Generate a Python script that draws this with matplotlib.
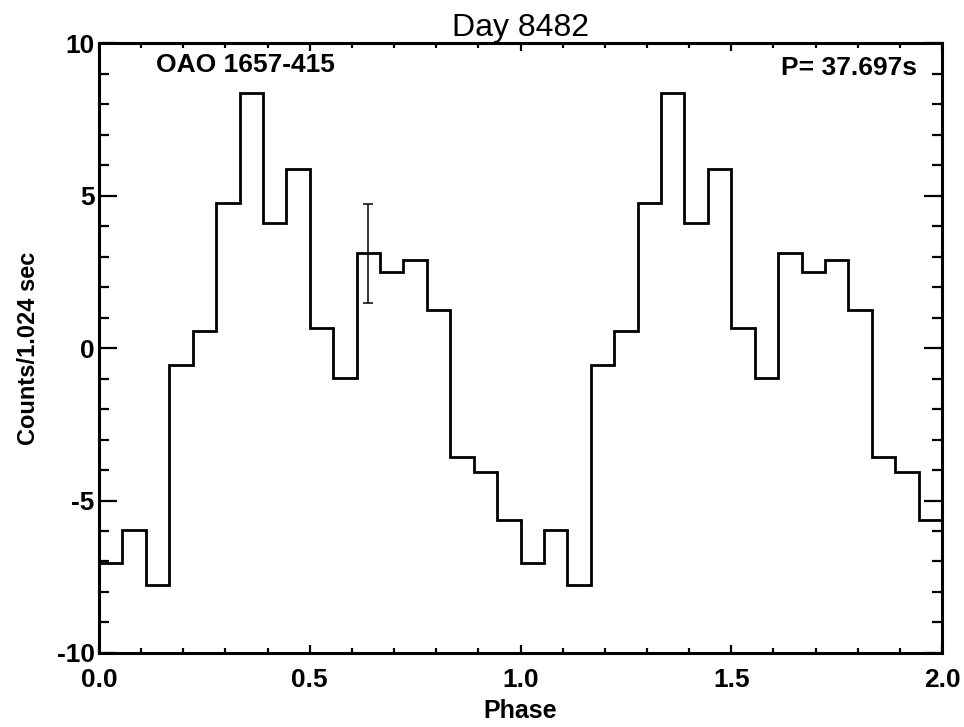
import numpy as np
import matplotlib
matplotlib.use("Agg")
import matplotlib.pyplot as plt
from matplotlib.ticker import MultipleLocator

plt.rcParams['font.family'] = ['Liberation Sans', 'DejaVu Sans']

# pulse profile, 18 phase bins, shown over two cycles
n_bins = 18
counts = [-7.05, -5.97, -7.77, -0.56, 0.55, 4.75, 8.36, 4.10, 5.87,
          0.66, -0.98, 3.11, 2.49, 2.89, 1.25, -3.57, -4.07, -5.64]
err_bin = 11          # bin with the representative error bar
err_size = 1.62

title = "Day 8482"
source = "OAO 1657-415"
period = "P= 37.697s"

edges = np.arange(2 * n_bins + 1) / n_bins
values = np.array(counts + counts)

fig = plt.figure(figsize=(9.64, 7.27), dpi=100)
ax = fig.add_axes([0.1027, 0.1018, 0.8745, 0.839])

ax.stairs(values, edges, color='black', lw=2.0, baseline=None)
xc = (edges[err_bin] + edges[err_bin + 1]) / 2
ax.errorbar([xc], [counts[err_bin]], yerr=[err_size], fmt='none',
            ecolor='black', elinewidth=1.1, capsize=3.5, capthick=1.1)

ax.set_xlim(0, 2)
ax.set_ylim(-10, 10)
ax.xaxis.set_major_locator(MultipleLocator(0.5))
ax.xaxis.set_minor_locator(MultipleLocator(0.1))
ax.yaxis.set_major_locator(MultipleLocator(5))
ax.yaxis.set_minor_locator(MultipleLocator(1))
ax.xaxis.set_major_formatter(plt.FuncFormatter(lambda v, p: f"{v:.1f}"))
ax.yaxis.set_major_formatter(plt.FuncFormatter(lambda v, p: f"{v:.0f}"))

for s in ax.spines.values():
    s.set_linewidth(2.2)
ax.tick_params(which='both', direction='in', top=True, right=True, width=1.6)
ax.tick_params(axis='x', which='major', length=6, pad=11)
ax.tick_params(axis='x', which='minor', length=3.6)
ax.tick_params(axis='y', which='major', length=13, pad=3)
ax.tick_params(axis='y', which='minor', length=7.5)
for lab in ax.get_xticklabels() + ax.get_yticklabels():
    lab.set_fontsize(19)
    lab.set_fontweight('bold')

ax.set_xlabel("Phase", fontsize=18, fontweight='bold', labelpad=5)
ax.set_ylabel("Counts/1.024 sec", fontsize=17, fontweight='bold', labelpad=12)
ax.set_title(title, fontsize=23, pad=0)

ax.text(0.068, 0.984, source, transform=ax.transAxes, fontsize=19,
        fontweight='bold', ha='left', va='top')
ax.text(0.97, 0.979, period, transform=ax.transAxes, fontsize=19,
        fontweight='bold', ha='right', va='top')

fig.savefig("out.png", dpi=100)
